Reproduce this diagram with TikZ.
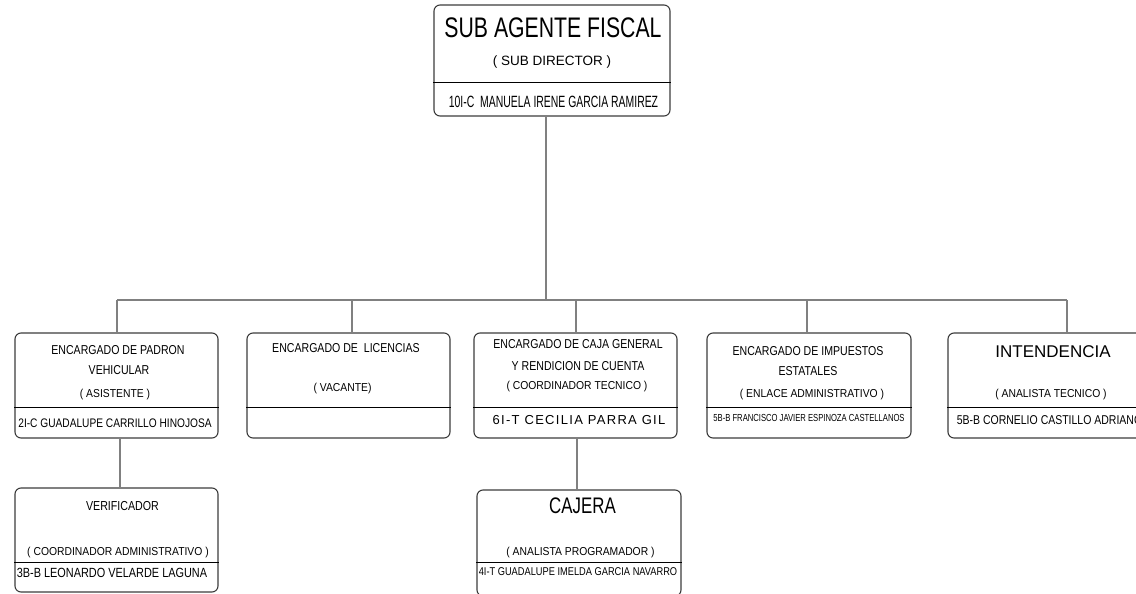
\documentclass[tikz,border=0pt]{standalone}
\usepackage{fontspec}
\setmainfont{Liberation Sans}
\newfontfamily\fnarrow[FakeStretch=0.75]{Liberation Sans}
\newfontfamily\fcond[FakeStretch=0.82]{Liberation Sans}
\newfontfamily\ftight[FakeStretch=0.64]{Liberation Sans}
\newfontfamily\fparen[FakeStretch=0.9]{Liberation Sans}
\newfontfamily\fspaced[LetterSpace=10]{Liberation Sans}
\definecolor{boxline}{HTML}{3C3C3C}
\definecolor{linkline}{HTML}{808080}

\tikzset{
	box/.style={draw=boxline, line width=1.1pt, rounded corners=6pt, inner sep=0pt},
	split/.style={draw=black, line width=1.6pt},
	link/.style={draw=linkline, line width=1.2pt},
	txt/.style={anchor=base, inner sep=0pt},
	post/.style={txt, font=\fcond\fontsize{12.9}{15}\selectfont},
	role/.style={txt, font=\fparen\fontsize{11.5}{13}\selectfont},
	person/.style={txt, font=\fcond\fontsize{#1}{15}\selectfont},
	person/.default=12.8
}

\begin{document}
\begin{tikzpicture}[x=1pt,y=-1pt]
		\useasboundingbox (0,0) rectangle (1136,594);
		\clip (0,0) rectangle (1136,594);

		% cajas
		\node[box, minimum width=236, minimum height=111] (agente) at (552,60.5) {};
		\node[box, minimum width=203, minimum height=105] (padron) at (116.5,385.5) {};
		\node[box, minimum width=203, minimum height=105] (licencias) at (348.5,385.5) {};
		\node[box, minimum width=203, minimum height=105] (caja) at (575.5,385.5) {};
		\node[box, minimum width=204, minimum height=105] (impuestos) at (809,385.5) {};
		\node[box, minimum width=203, minimum height=105] (intendencia) at (1049.5,385.5) {};
		\node[box, minimum width=203, minimum height=104] (verificador) at (116.5,540) {};
		\node[box, minimum width=204, minimum height=106] (cajera) at (579,543) {};

		\draw[split] ([yshift=34pt]agente.south west) -- ([yshift=34pt]agente.south east);
		\foreach \b in {padron,licencias,caja,impuestos,intendencia}
			\draw[split] ([yshift=31pt]\b.south west) -- ([yshift=31pt]\b.south east);
		\draw[split] ([yshift=30pt]verificador.south west) -- ([yshift=30pt]verificador.south east);
		\draw[split] ([yshift=34pt]cajera.south west) -- ([yshift=34pt]cajera.south east);

		% lineas
		\coordinate (hub) at (546,300);
		\coordinate (bend1) at (117,300);
		\coordinate (bend2) at (352,300);
		\coordinate (bend3) at (576,300);
		\coordinate (bend4) at (807,300);
		\coordinate (bend5) at (1067,300);
		\draw[link] (agente.south -| hub) -- (hub);
		\draw[link] (bend1) -- (bend5);
		\foreach \c/\b in {bend1/padron,bend2/licencias,bend3/caja,bend4/impuestos,bend5/intendencia}
			\draw[link] (\c) -- (\c |- \b.north);
		\draw[link] ([xshift=3.5pt]padron.south) -- ([xshift=3.5pt]padron.south |- verificador.north);
		\draw[link] ([xshift=1.5pt]caja.south) -- ([xshift=1.5pt]caja.south |- cajera.north);

		% textos
		\node[txt, font=\fnarrow\fontsize{28.3}{30}\selectfont] (agentet) at (553,38) {SUB AGENTE FISCAL};
		\node[txt, font=\fontsize{13.5}{15}\selectfont] (agenter) at (552,66) {( SUB DIRECTOR )};
		\node[txt, font=\ftight\fontsize{16.3}{18}\selectfont] (agenten) at (553.5,107) {10I-C~ MANUELA IRENE GARCIA RAMIREZ};

		\node[post] (padront) at (118,354) {ENCARGADO DE PADRON};
		\node[post] (padront2) at (119,374) {VEHICULAR};
		\node[role] (padronr) at (115,397) {( ASISTENTE )};
		\node[person=12.4] (padronn) at (115,427) {2I-C GUADALUPE CARRILLO HINOJOSA};

		\node[post] (licenciast) at (346,352) {ENCARGADO DE~ LICENCIAS};
		\node[role] (licenciasr) at (342.5,391) {( VACANTE)};

		\node[post] (cajat) at (578,348) {ENCARGADO DE CAJA GENERAL};
		\node[post] (cajat2) at (578,370) {Y RENDICION DE CUENTA};
		\node[role] (cajar) at (577,389) {( COORDINADOR TECNICO )};
		\node[txt, font=\fspaced\fontsize{13}{15}\selectfont] (cajan) at (579,424) {6I-T CECILIA PARRA GIL};

		\node[post] (impuestost) at (808,355) {ENCARGADO DE IMPUESTOS};
		\node[post] (impuestost2) at (808,375) {ESTATALES};
		\node[role] (impuestosr) at (812,397) {( ENLACE ADMINISTRATIVO )};
		\node[txt, font=\fnarrow\fontsize{10.2}{12}\selectfont] (impuestosn) at (809,421) {5B-B FRANCISCO JAVIER ESPINOZA CASTELLANOS};

		\node[txt, font=\fontsize{17}{19}\selectfont] (intendenciat) at (1053,357) {INTENDENCIA};
		\node[role] (intendenciar) at (1051,397) {( ANALISTA TECNICO )};
		\node[person] (intendencian) at (1049.5,424) {5B-B CORNELIO CASTILLO ADRIANO};

		\node[txt, font=\fcond\fontsize{13}{15}\selectfont] (verificadort) at (122.5,510) {VERIFICADOR};
		\node[role] (verificadorr) at (118,555) {( COORDINADOR ADMINISTRATIVO )};
		\node[person=13.3] (verificadorn) at (112,577) {3B-B LEONARDO VELARDE LAGUNA};

		\node[txt, font=\fnarrow\fontsize{22.5}{25}\selectfont] (cajerat) at (582.5,513) {CAJERA};
		\node[role] (cajerar) at (580.5,555) {( ANALISTA PROGRAMADOR )};
		\node[person=11.3] (cajeran) at (578,575) {4I-T GUADALUPE IMELDA GARCIA NAVARRO};
	\end{tikzpicture}
\end{document}
